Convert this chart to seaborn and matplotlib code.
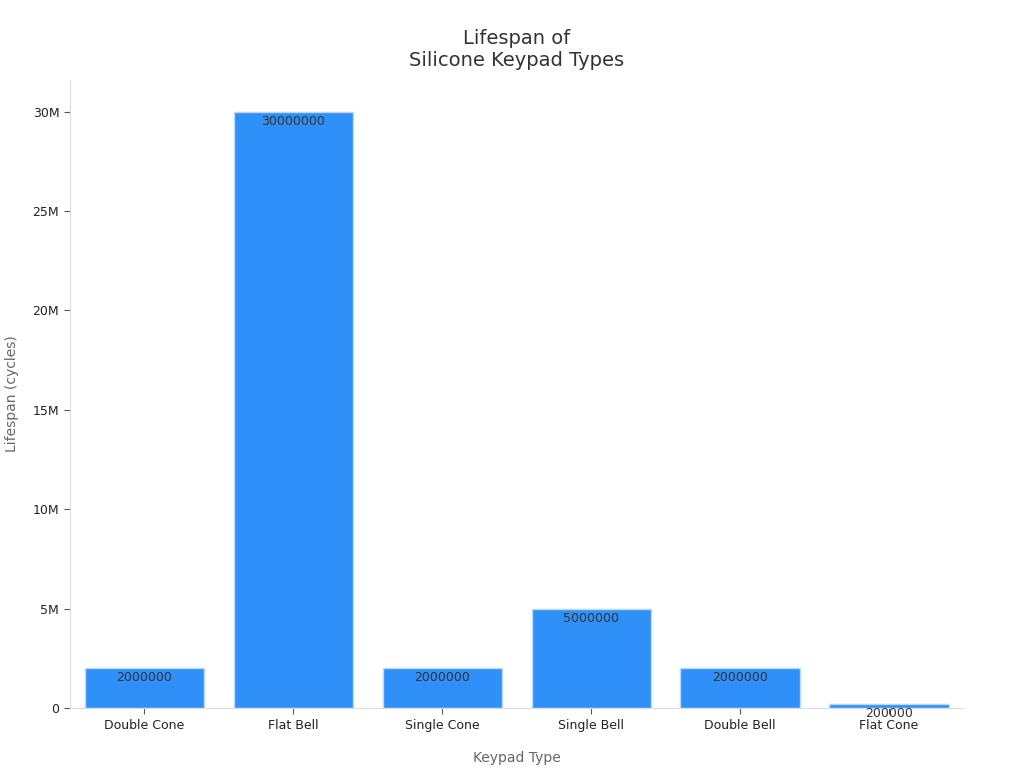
import matplotlib
matplotlib.use("Agg")
import matplotlib.pyplot as plt
import seaborn as sns
import pandas as pd
from matplotlib.ticker import FuncFormatter

categories = ["Double Cone", "Flat Bell", "Single Cone", "Single Bell", "Double Bell", "Flat Cone"]
lifespan = [2000000, 30000000, 2000000, 5000000, 2000000, 200000]
df = pd.DataFrame({"type": categories, "life": lifespan})

sns.set_style("white")
fig = plt.figure(figsize=(10.24, 7.68), dpi=100)
ax = fig.add_axes([0.068, 0.078, 0.873, 0.818])
sns.barplot(data=df, x="type", y="life", color="#2E90F8", saturation=1, width=0.8,
            edgecolor="#BBD9FA", linewidth=1, ax=ax)
for p, v in zip(ax.patches, lifespan):
    ax.text(p.get_x() + p.get_width() / 2, v - 150000, str(v), ha="center", va="top",
            fontsize=9, color="#333333")
ax.set_ylim(0, 31.6e6)
ax.set_xlim(-0.5, 5.5)
ax.set_yticks([0, 5e6, 10e6, 15e6, 20e6, 25e6, 30e6])
ax.yaxis.set_major_formatter(FuncFormatter(lambda v, _: "0" if v == 0 else f"{int(v/1e6)}M"))
ax.tick_params(axis="both", labelsize=9, colors="#222222", length=4, left=True, bottom=True)
for s in ["top", "right"]:
    ax.spines[s].set_visible(False)
for s in ["left", "bottom"]:
    ax.spines[s].set_color("#DDDDDD")
ax.tick_params(color="#555555")
ax.set_xlabel("Keypad Type", fontsize=10, color="#666666", labelpad=14)
ax.set_ylabel("Lifespan (cycles)", fontsize=10, color="#666666", labelpad=10)
ax.set_title("Lifespan of\nSilicone Keypad Types", fontsize=14, color="#333333", pad=10)
fig.savefig("out.png", dpi=100)
